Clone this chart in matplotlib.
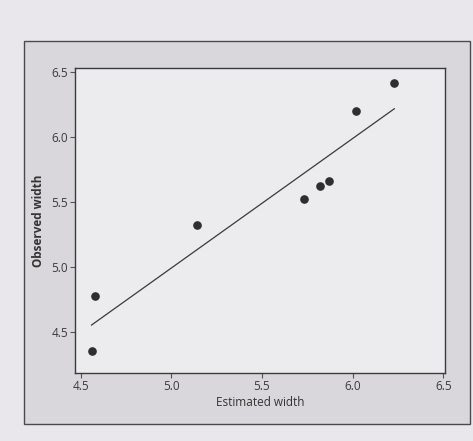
import matplotlib
matplotlib.use('Agg')
import matplotlib.pyplot as plt
import numpy as np
from matplotlib.patches import Rectangle

matplotlib.rcParams['font.family'] = ['Open Sans', 'DejaVu Sans']
matplotlib.rcParams['font.size'] = 8.5

# estimated vs observed width
estimated = [4.56, 4.58, 5.14, 5.73, 5.82, 5.87, 6.02, 6.23]
observed = [4.35, 4.77, 5.32, 5.52, 5.62, 5.66, 6.20, 6.41]
xticks = [4.5, 5.0, 5.5, 6.0, 6.5]
yticks = [4.5, 5.0, 5.5, 6.0, 6.5]

page_col = '#e9e7eb'
panel_col = '#d9d7db'
plot_col = '#ecebee'
ink = '#2e2e30'

def main():
    fig = plt.figure(figsize=(4.73, 4.41), dpi=100, facecolor=page_col)

    # outer grey panel (minitab style graph region), kept behind the axes
    fig.patches.append(Rectangle((0.05, 0.039), 0.944, 0.868, transform=fig.transFigure,
                                 facecolor=panel_col, edgecolor='#4a4a4c', linewidth=1.0, zorder=-5))

    ax = fig.add_axes([0.159, 0.154, 0.782, 0.692])
    ax.set_facecolor(plot_col)

    ax.plot(estimated, observed, 'o', color=ink, markersize=5.2, zorder=3)

    # least squares line over the range of the data
    slope, icpt = np.polyfit(estimated, observed, 1)
    xx = np.array([min(estimated), max(estimated)])
    ax.plot(xx, slope*xx+icpt, color='#3a3a3c', linewidth=0.9)

    ax.set_xlim(4.47, 6.51)
    ax.set_ylim(4.18, 6.53)
    ax.set_xticks(xticks)
    ax.set_yticks(yticks)
    ax.set_xticklabels(['%.1f' % v for v in xticks])
    ax.set_yticklabels(['%.1f' % v for v in yticks])
    ax.tick_params(direction='out', length=3.5, width=0.8, color='#555', labelcolor='#3a3a3c', pad=1.5)
    for sp in ax.spines.values():
        sp.set_color('#3a3a3c')
        sp.set_linewidth(1.0)

    ax.set_xlabel('Estimated width', color='#333', labelpad=2)
    ax.set_ylabel('Observed width', color='#333', fontweight='bold', labelpad=5)

    plt.savefig('out.png', dpi=100, facecolor=fig.get_facecolor())


if __name__ == "__main__":
    main()
